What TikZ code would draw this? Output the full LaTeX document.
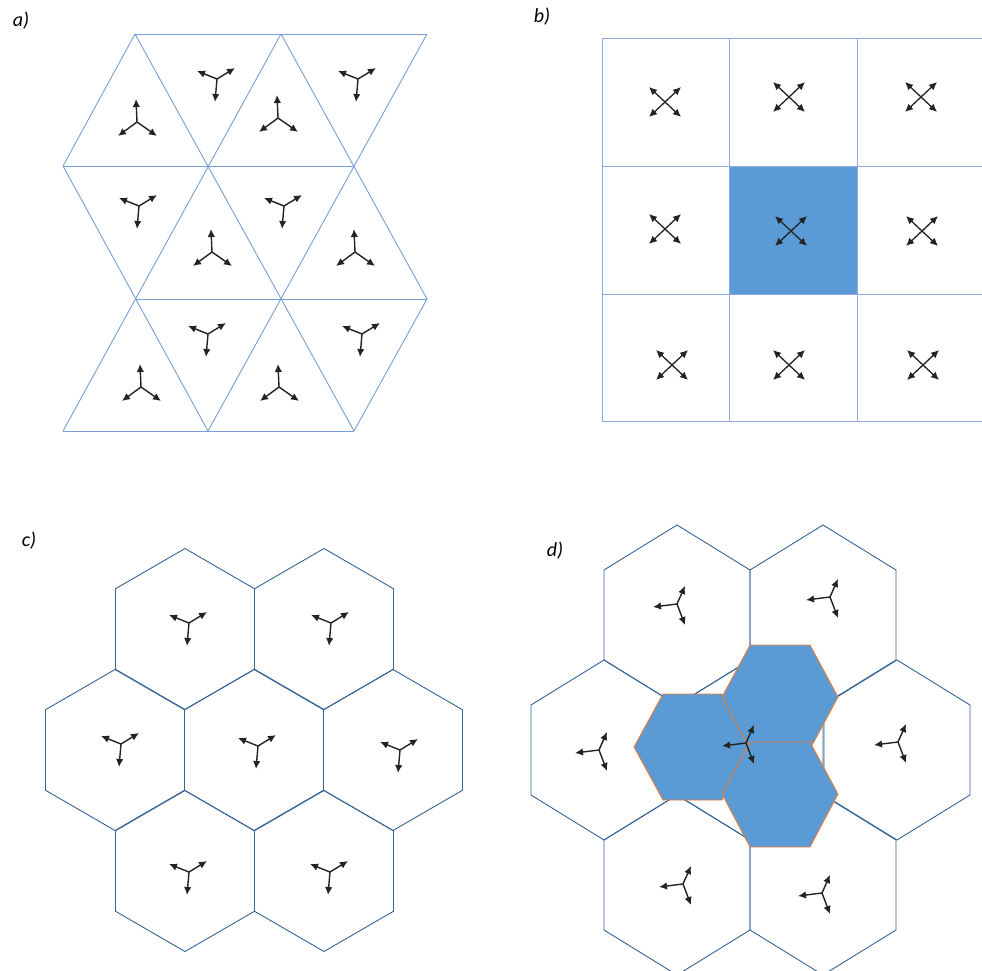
\documentclass[tikz,border=0pt]{standalone}
\usepackage{fontspec}
\setmainfont{Carlito}
\usetikzlibrary{arrows.meta}
\definecolor{trib}{RGB}{120,160,215}
\definecolor{gridb}{RGB}{143,170,220}
\definecolor{fillb}{RGB}{91,155,213}
\definecolor{hexb}{RGB}{55,100,150}
\definecolor{orng}{RGB}{237,125,49}
\definecolor{arrc}{RGB}{35,35,35}
\tikzset{
  tri/.style={draw=trib, line width=0.9pt},
  gridl/.style={draw=gridb, line width=1pt},
  hexl/.style={draw=hexb, line width=0.9pt},
  bluehex/.style={fill=fillb, draw=orng, line width=0.9pt, line join=miter},
  arr/.style={draw=arrc, line width=1.4pt, -{Latex[length=8pt,width=7.5pt]}},
  arrtwo/.style={draw=arrc, line width=1.3pt, {Latex[length=8pt,width=7.5pt]}-{Latex[length=8pt,width=7.5pt]}},
  lbl/.style={font=\fontsize{20}{24}\selectfont\itshape, inner sep=0pt},
  tridown/.pic={\draw[arr] (0,0) -- (-20,-8); \draw[arr] (0,0) -- (18,-11); \draw[arr] (0,0) -- (-2,23);},
  triup/.pic={\draw[arr] (0,0) -- (-1,-23); \draw[arr] (0,0) -- (-19,14); \draw[arr] (0,0) -- (20,14);},
  xarr/.pic={\draw[arrtwo] (-16,15) -- (16,-15); \draw[arrtwo] (-16,-15) -- (16,15);},
  trileft/.pic={\draw[arr] (0,0) -- (-24,3); \draw[arr] (0,0) -- (8,-18); \draw[arr] (0,0) -- (8,21);},
  hexc/.pic={\draw[hexl] (0,-80.5) -- (69.5,-40.25) -- (69.5,40.25) -- (0,80.5) -- (-69.5,40.25) -- (-69.5,-40.25) -- cycle;},
  hexd/.pic={\draw[hexl] (0,-90) -- (73,-45) -- (73,45) -- (0,90) -- (-73,45) -- (-73,-45) -- cycle;},
}
\begin{document}
\begin{tikzpicture}[x=1pt,y=-1pt]
\useasboundingbox (0,0) rectangle (982,971);
\fill[white] (0,0) rectangle (982,971);

% ---------- a) ----------
\node[lbl] (la) at (21,21) {a)};
\draw[tri] (135,34) -- (427,34);
\draw[tri] (63,166) -- (354,166);
\draw[tri] (135,299) -- (427,299);
\draw[tri] (63,431) -- (354,431);
\draw[tri] (135,34) -- (354,431);
\draw[tri] (63,166) -- (208,431);
\draw[tri] (281,34) -- (427,299);
\draw[tri] (135,34) -- (63,166);
\draw[tri] (281,34) -- (63,431);
\draw[tri] (427,34) -- (208,431);
\draw[tri] (427,299) -- (354,431);
\pic at (137,122) {triup};
\pic at (217,79) {tridown};
\pic at (278,118) {triup};
\pic at (358,79) {tridown};
\pic at (139,206) {tridown};
\pic at (212,252) {triup};
\pic at (284,206) {tridown};
\pic at (355,252) {triup};
\pic at (141,387) {triup};
\pic at (208,334) {tridown};
\pic at (279,387) {triup};
\pic at (362,334) {tridown};

% ---------- b) ----------
\node[lbl] (lb) at (542,17) {b)};
\fill[fillb] (729,166) rectangle (857,294);
\draw[gridl] (602,39) -- (982,39);
\draw[gridl] (602,166) -- (982,166);
\draw[gridl] (602,294) -- (982,294);
\draw[gridl] (602,421) -- (982,421);
\draw[gridl] (602,39) -- (602,421);
\draw[gridl] (729,39) -- (729,421);
\draw[gridl] (857,39) -- (857,421);
\pic at (665,102) {xarr};
\pic at (789,97) {xarr};
\pic at (921,97) {xarr};
\pic at (665,229) {xarr};
\pic at (791,231) {xarr};
\pic at (922,231) {xarr};
\pic at (672,365) {xarr};
\pic at (789,365) {xarr};
\pic at (923,365) {xarr};

% ---------- c) ----------
\node[lbl] (lc) at (29,541) {c)};
\pic at (185,629) {hexc};
\pic at (324,629) {hexc};
\pic at (115,750) {hexc};
\pic at (254,750) {hexc};
\pic at (393,750) {hexc};
\pic at (185,871) {hexc};
\pic at (324,871) {hexc};
\pic at (189,623) {tridown};
\pic at (331,623) {tridown};
\pic at (121,744) {tridown};
\pic at (258,746) {tridown};
\pic at (400,750) {tridown};
\pic at (189,872) {tridown};
\pic at (330,872) {tridown};

% ---------- d) ----------
\node[lbl] (ld) at (555,551) {d)};
\pic at (677,615) {hexd};
\pic at (823,615) {hexd};
\pic at (604,750) {hexd};
\pic at (750,750) {hexd};
\pic at (897,750) {hexd};
\pic at (677,885) {hexd};
\pic at (823,885) {hexd};
\draw[bluehex] (634,747) -- (663,694) -- (722,694) -- (751,747) -- (722,800) -- (663,800) -- cycle;
\draw[bluehex] (722,697) -- (750,645) -- (810,645) -- (838,697) -- (810,749) -- (750,749) -- cycle;
\draw[bluehex] (722,794) -- (750,742) -- (810,742) -- (838,794) -- (810,847) -- (750,847) -- cycle;
\pic at (677,604) {trileft};
\pic at (830,597) {trileft};
\pic at (599,750) {trileft};
\pic at (898,742) {trileft};
\pic at (683,884) {trileft};
\pic at (822,893) {trileft};
\pic at (746,743) {trileft};
\end{tikzpicture}
\end{document}
